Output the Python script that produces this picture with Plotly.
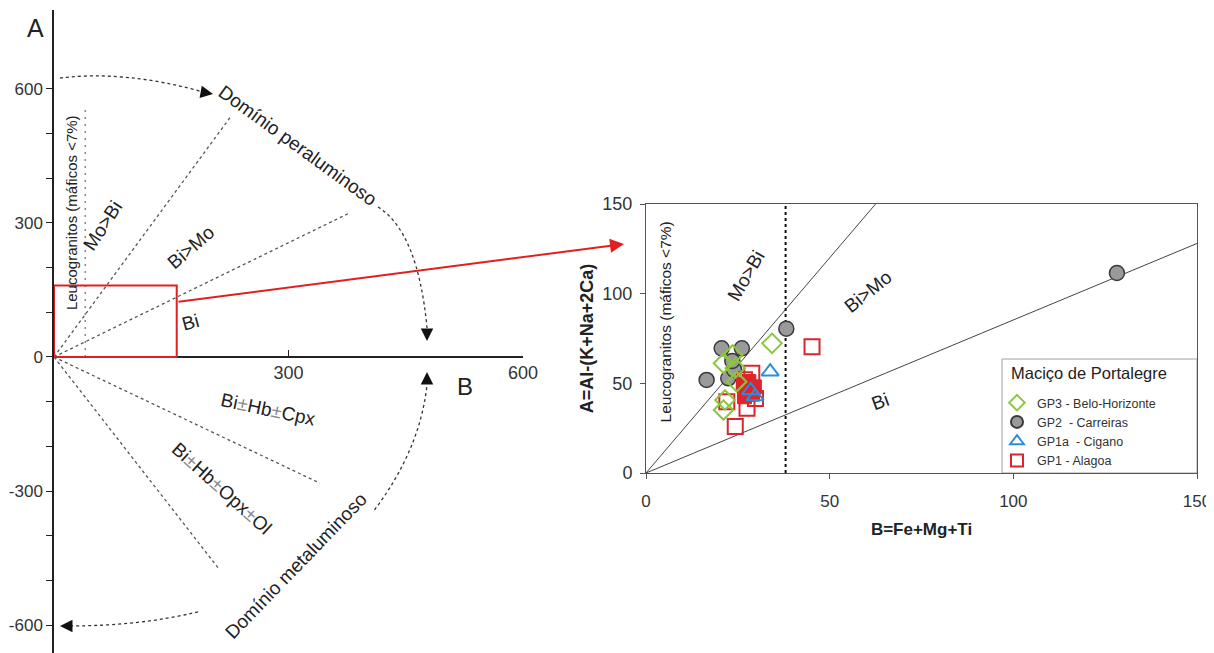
import plotly.graph_objects as go

FONT = "Liberation Sans, Arial, sans-serif"
INK = "#222222"
GREY = "#555555"

# ---------------- Left diagram: full B-A plane (Debon & Le Fort) ----------------
left_b_tickvals = [300, 600]
left_a_tickvals = [-600, -500, -400, -300, -200, -100, 0, 100, 200, 300, 400, 500, 600]
left_a_ticktext = ["-600", "", "", "-300", "", "", "0", "", "", "300", "", "", "600"]

# end points of the dotted boundary rays that start at the origin
left_ray_end_b = [225, 378, 340, 211]
left_ray_end_a = [535, 322, -282, -474]
# leucogranite limit (maficos < 7%)
left_leuco_b = [40, 40]
left_leuco_a = [0, 553]
# zoomed window (B 0-150, A 0-150)
zoom_box_b = [0, 157]
zoom_box_a = [0, 160]

# curved "domain" arrows: start, control, end (B, A) and arrow tip
arc_start_b = [7.7, 414.5, 410.0, 184.2]
arc_start_a = [623.9, 335.4, -342.0, -570.0]
arc_ctrl_b = [90.8, 465.7, 468.0, 110.0]
arc_ctrl_a = [641.8, 279.5, -208.0, -601.5]
arc_end_b = [190.6, 477.2, 477.2, 20.5]
arc_end_a = [592.6, 64.8, -62.6, -601.5]
arc_tip_b = [203.4, 477.2, 477.2, 7.7]
arc_tip_a = [588.1, 35.8, -33.5, -601.5]
arc_tail_dx = [-11, 0, 0, 12]
arc_tail_dy = [-2, -12, 12, 0]

# ---------------- Right diagram: zoom with samples ----------------
right_ticks = [0, 50, 100, 150]
mo_bi_line_b = [0, 62.5]
mo_bi_line_a = [0, 150]
bi_line_b = [0, 150]
bi_line_a = [0, 128]
leuco_line_b = [38, 38]
leuco_line_a = [0, 150]

gp3_b = [34.3, 23.6, 21.1, 24.7, 21.5, 21.1, 24.3]
gp3_a = [72.3, 65.8, 61.2, 50.9, 40.7, 35.1, 58.5]

gp2_b = [128.2, 38.2, 20.6, 26.1, 16.5, 22.4, 24.0, 23.5]
gp2_a = [111.5, 80.5, 69.5, 69.5, 51.9, 52.8, 57.5, 62.5]

gp1a_b = [33.8, 29.7, 28.5]
gp1a_a = [56.5, 42.6, 46.0]

gp1_b = [45.2, 28.8, 24.3, 27.5, 22.0, 29.8, 26.8]
gp1_a = [70.4, 55.6, 25.9, 36.1, 39.8, 41.5, 52.0]
gp1_dense_b = [26.5, 28.0, 29.5, 27.5, 29.0, 26.8]
gp1_dense_a = [49.5, 51.0, 48.0, 45.5, 44.0, 42.5]

fig = go.Figure()

# ---- left diagram lines
for eb, ea in zip(left_ray_end_b, left_ray_end_a):
    fig.add_trace(go.Scatter(x=[0, eb], y=[0, ea], mode="lines", xaxis="x", yaxis="y",
                             line=dict(color=GREY, width=1.3, dash="dot"),
                             showlegend=False, hoverinfo="skip"))
fig.add_trace(go.Scatter(x=left_leuco_b, y=left_leuco_a, mode="lines", xaxis="x", yaxis="y",
                         line=dict(color="#888888", width=1.5, dash="2px,5px"),
                         showlegend=False, hoverinfo="skip"))

# ---- right diagram lines
fig.add_trace(go.Scatter(x=mo_bi_line_b, y=mo_bi_line_a, mode="lines", xaxis="x2", yaxis="y2",
                         line=dict(color="#444444", width=1), showlegend=False, hoverinfo="skip"))
fig.add_trace(go.Scatter(x=bi_line_b, y=bi_line_a, mode="lines", xaxis="x2", yaxis="y2",
                         line=dict(color="#444444", width=1), showlegend=False, hoverinfo="skip"))
fig.add_trace(go.Scatter(x=leuco_line_b, y=leuco_line_a, mode="lines", xaxis="x2", yaxis="y2",
                         line=dict(color="#111111", width=2, dash="dot"),
                         showlegend=False, hoverinfo="skip"))

# ---- samples
fig.add_trace(go.Scatter(x=gp2_b, y=gp2_a, mode="markers", xaxis="x2", yaxis="y2",
                         name="GP2  - Carreiras", legendrank=2,
                         marker=dict(symbol="circle", size=15, color="#9a9a9a",
                                     line=dict(color="#3a3a3a", width=1.5))))
fig.add_trace(go.Scatter(x=gp1_b, y=gp1_a, mode="markers", xaxis="x2", yaxis="y2",
                         name="GP1 - Alagoa", legendrank=4, legendgroup="gp1",
                         marker=dict(symbol="square-open", size=15, color="#d8262c",
                                     line=dict(width=2))))
fig.add_trace(go.Scatter(x=gp1_dense_b, y=gp1_dense_a, mode="markers", xaxis="x2", yaxis="y2",
                         name="GP1 - Alagoa", legendgroup="gp1", showlegend=False,
                         marker=dict(symbol="square", size=14, color="#e0242a",
                                     line=dict(color="#d8262c", width=1))))
fig.add_trace(go.Scatter(x=gp3_b, y=gp3_a, mode="markers", xaxis="x2", yaxis="y2",
                         name="GP3 - Belo-Horizonte", legendrank=1,
                         marker=dict(symbol="diamond-open", size=15, color="#8cc63e",
                                     line=dict(width=2))))
fig.add_trace(go.Scatter(x=gp1a_b, y=gp1a_a, mode="markers", xaxis="x2", yaxis="y2",
                         name="GP1a  - Cigano", legendrank=3,
                         marker=dict(symbol="triangle-up-open", size=15, color="#2a8ee0",
                                     line=dict(width=2))))

# the page body adds an 8 px offset; positions below are given in window pixels
OFF = 8
W, H = 1214 - OFF, 653 - OFF
def px(xp):
    return (xp - OFF) / W
def py(yp):
    return (653 - yp) / H

shapes = []
# zoom window on the left diagram
shapes.append(dict(type="rect", xref="x", yref="y", x0=zoom_box_b[0], x1=zoom_box_b[1],
                   y0=zoom_box_a[0], y1=zoom_box_a[1], line=dict(color="#e02020", width=2)))
# curved domain arrows
for i in range(len(arc_start_b)):
    path = "M {},{} Q {},{} {},{}".format(arc_start_b[i], arc_start_a[i], arc_ctrl_b[i],
                                         arc_ctrl_a[i], arc_end_b[i], arc_end_a[i])
    shapes.append(dict(type="path", xref="x", yref="y", path=path,
                       line=dict(color="#333333", width=1.3, dash="dot")))
# legend frame
shapes.append(dict(type="rect", xref="paper", yref="paper", x0=px(1002), x1=px(1197),
                   y0=py(473), y1=py(359), line=dict(color="#a0a0a0", width=1),
                   fillcolor="white", layer="below"))

pm = '<span style="color:#8a8a8a">±</span>'
annotations = []
for i in range(len(arc_tip_b)):
    annotations.append(dict(x=arc_tip_b[i], y=arc_tip_a[i], xref="x", yref="y", text="",
                            showarrow=True, ax=arc_tail_dx[i], ay=arc_tail_dy[i],
                            arrowhead=2, arrowsize=2.5, arrowwidth=1, arrowcolor="#111111",
                            standoff=0))

def lab(x, y, text, angle=0, size=17, xref="x", yref="y", color=INK, xanchor="center"):
    annotations.append(dict(x=x, y=y, xref=xref, yref=yref, text=text, textangle=angle,
                            xanchor=xanchor, yanchor="middle", showarrow=False,
                            font=dict(family=FONT, size=size, color=color)))

# left diagram labels
lab(px(35), py(28), "A", size=25, xref="paper", yref="paper")
lab(526, -67, "B", size=24)
lab(62.7, 293, "Mo&gt;Bi", -57, size=19)
lab(175, 244, "Bi&gt;Mo", -41, size=19)
lab(174, 78, "Bi", -15, size=19)
lab(21.7, 324, "Leucogranitos (máficos &lt;7%)", -90, size=15)
lab(274, -118.5, "Bi" + pm + "Hb" + pm + "Cpx", 12, size=19)
lab(215, -293, "Bi" + pm + "Hb" + pm + "Opx" + pm + "Ol", 42, size=19)
lab(312, 474, "Domínio peraluminoso", 36, size=19)
lab(310, -467, "Domínio metaluminoso", -46, size=19)

# right diagram labels
lab(27.3, 110, "Mo&gt;Bi", -60, size=19, xref="x2", yref="y2")
lab(60.5, 101, "Bi&gt;Mo", -39, size=19, xref="x2", yref="y2")
lab(63.8, 39.6, "Bi", -20, size=19, xref="x2", yref="y2")
lab(5.2, 84, "Leucogranitos (máficos &lt;7%)", -90, size=15.5, xref="x2", yref="y2")
# legend heading
lab(px(1009), py(373), "Maciço de Portalegre", size=16.5, xref="paper", yref="paper",
    xanchor="left")

# red arrow linking the zoom window to the detailed diagram (tail offset in px)
annotations.append(dict(x=px(624), y=py(244), xref="paper", yref="paper", text="",
                        showarrow=True, ax=177 - 624, ay=302 - 244,
                        arrowhead=2, arrowsize=1.4, arrowwidth=2, arrowcolor="#e02020",
                        standoff=0))

axis_common = dict(showgrid=False, zeroline=False, showline=True, automargin=False)

fig.update_layout(
    width=W, height=H,
    margin=dict(l=0, r=0, t=0, b=0, autoexpand=False),
    paper_bgcolor="white", plot_bgcolor="rgba(0,0,0,0)",
    font=dict(family=FONT, color="#333333"),
    showlegend=True,
    xaxis=dict(domain=[px(54), px(523)], range=[0, 600], anchor="free", position=py(357),
               linecolor=INK, linewidth=1.5, ticks="inside", ticklen=6, tickcolor=INK,
               tickvals=left_b_tickvals, tickfont=dict(size=18, color="#333333"),
               **axis_common),
    yaxis=dict(domain=[0, py(10)], range=[-662, 776], anchor="x",
               linecolor=INK, linewidth=1.5, ticks="outside", ticklen=6, tickcolor=INK,
               tickvals=left_a_tickvals, ticktext=left_a_ticktext,
               tickfont=dict(size=17, color="#333333"), **axis_common),
    xaxis2=dict(domain=[px(646), px(1197)], range=[0, 150], anchor="y2",
                linecolor="#555555", linewidth=1, mirror=True, ticks="outside", ticklen=5,
                tickcolor="#555555", tickvals=right_ticks, ticklabelstandoff=8,
                tickfont=dict(size=17, color="#333333"),
                title=dict(text="<b>B=Fe+Mg+Ti</b>", standoff=12,
                           font=dict(size=17, color=INK)), **axis_common),
    yaxis2=dict(domain=[py(473), py(204)], range=[0, 150], anchor="x2",
                linecolor="#555555", linewidth=1, mirror=True, ticks="outside", ticklen=5,
                tickcolor="#555555", tickvals=right_ticks, ticklabelstandoff=4,
                tickfont=dict(size=18, color="#333333"),
                title=dict(text="<b>A=Al-(K+Na+2Ca)</b>", standoff=4,
                           font=dict(size=18, color=INK)), **axis_common),
    legend=dict(x=px(997), y=py(388), xanchor="left", yanchor="top",
                bgcolor="rgba(0,0,0,0)", borderwidth=0,
                font=dict(size=12.5, color="#333333"), itemsizing="constant",
                tracegroupgap=0),
    shapes=shapes,
    annotations=annotations,
)

fig.write_html("out.html")
